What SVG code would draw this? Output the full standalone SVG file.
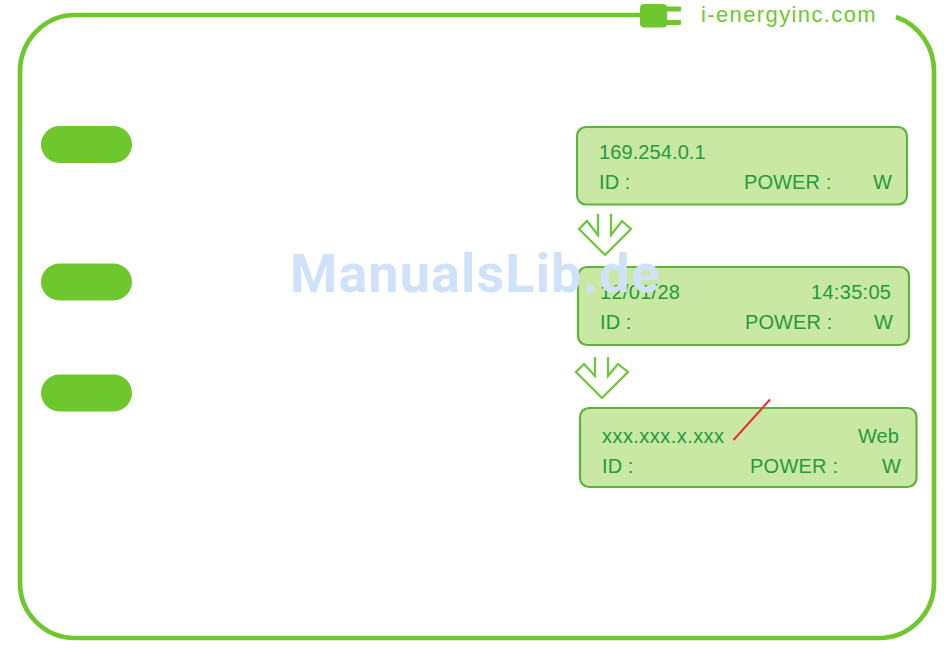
<svg xmlns="http://www.w3.org/2000/svg" width="950" height="653" viewBox="0 0 950 653">
<style>
.frame{fill:none;stroke:#6fc72e;stroke-width:4.7}
.pill{fill:#6fc72e}
.panel{fill:#c9e8a4;stroke:#5cb53a;stroke-width:2.2}
.t{font-family:"Liberation Sans",Arial,sans-serif;font-size:20px;fill:#259a3c;letter-spacing:.1px}
.arrow{fill:#fff;stroke:#6cc636;stroke-width:2.2}
.brand{font-family:"Liberation Sans",Arial,sans-serif;font-size:22px;fill:#6fc72e;letter-spacing:1.38px}
.wm{font-family:Roboto,"Liberation Sans",sans-serif;font-size:54px;font-weight:700;fill:#cfe2fa;letter-spacing:1.1px}
</style>
<g id="frame">
<path class="frame" d="M640 15H75A55 57 0 0 0 20 72V583A55 55 0 0 0 75 638H879A55 55 0 0 0 934 583V72A55 57 0 0 0 896 17"/>
</g>
<g id="plug">
<rect class="pill" x="640" y="4" width="27" height="23.500" rx="4"/>
<rect class="pill" x="664" y="6.500" width="17" height="5" rx="1"/>
<rect class="pill" x="664" y="20" width="17" height="5" rx="1"/>
<text class="brand" x="701" y="22">i-energyinc.com</text>
</g>
<g id="pill1"><rect class="pill" x="41" y="126" width="91" height="37" rx="18.500"/></g>
<g id="pill2"><rect class="pill" x="41" y="263.500" width="91" height="37" rx="18.500"/></g>
<g id="pill3"><rect class="pill" x="41" y="374.500" width="91" height="37" rx="18.500"/></g>
<g id="panel1">
<rect class="panel" x="577" y="127" width="330" height="77.500" rx="9"/>
<text class="t" x="599" y="159">169.254.0.1</text>
<text class="t" x="599" y="189">ID :</text>
<text class="t" x="744" y="189">POWER :</text>
<text class="t" x="873" y="189">W</text>
</g>
<g id="panel2">
<rect class="panel" x="578" y="267" width="331" height="78" rx="9"/>
<text class="t" x="600" y="299" style="letter-spacing:.3px">12/01/28</text>
<text class="t" x="811" y="299" style="letter-spacing:.3px">14:35:05</text>
<text class="t" x="600" y="329">ID :</text>
<text class="t" x="745" y="329">POWER :</text>
<text class="t" x="874" y="329">W</text>
</g>
<g id="panel3">
<rect class="panel" x="580" y="408" width="336.500" height="79" rx="9"/>
<text class="t" x="602" y="443" style="letter-spacing:.45px">xxx.xxx.x.xxx</text>
<text class="t" x="858" y="443">Web</text>
<text class="t" x="602" y="473">ID :</text>
<text class="t" x="750" y="473" style="letter-spacing:.25px">POWER :</text>
<text class="t" x="882" y="473">W</text>
</g>
<g id="connectors">
<path class="arrow" d="M598 214V235L587 221L579 229L605 255L631 229L622 221L611 235V214"/>
<path class="arrow" d="M595 357V376L584 364L576 372L602 398L628 372L618 364L608 376V357"/>
<path d="M733.500 440L770 399.500" fill="none" stroke="#ee2a33" stroke-width="2"/>
</g>
<text class="wm" x="290" y="292">ManualsLib.de</text>
</svg>
